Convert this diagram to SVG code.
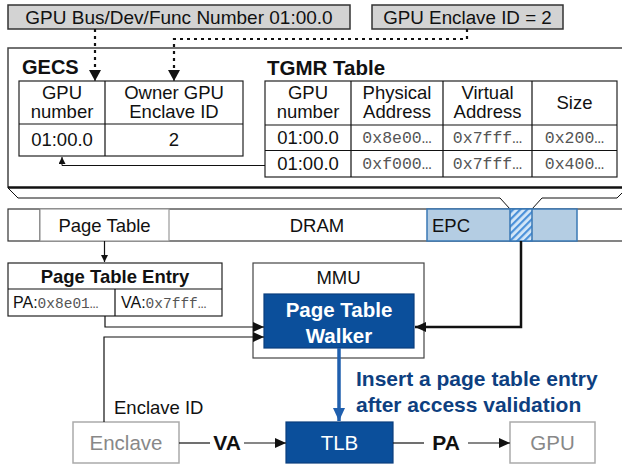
<svg xmlns="http://www.w3.org/2000/svg" width="622" height="465" viewBox="0 0 622 465">
<style>
text{font-family:"Liberation Sans",Arial,sans-serif;fill:#111}
.c{text-anchor:middle}
.b{font-weight:bold}
.t17{font-size:18.5px}
.mono{font-family:"Liberation Mono","Courier New",monospace;fill:#555;font-size:16.5px}
.cell{fill:#fff;stroke:#222;stroke-width:1.2}
.thin{fill:none;stroke:#111;stroke-width:1.2}
.dash{fill:none;stroke:#111;stroke-width:2.2;stroke-dasharray:3,4}
.blue{fill:#0b4f9b;stroke:#0a3f7e;stroke-width:1.2}
.gray{fill:#fff;stroke:#aaa;stroke-width:1.5}
</style>
<defs>
<marker id="big" markerUnits="userSpaceOnUse" markerWidth="12" markerHeight="12" refX="11" refY="6" orient="auto"><path d="M0,0 L11,6 L0,12 z" fill="#111"/></marker>
<marker id="med" markerUnits="userSpaceOnUse" markerWidth="12" markerHeight="10" refX="11" refY="5" orient="auto"><path d="M0,0 L11,5 L0,10 z" fill="#111"/></marker>
<marker id="sm" markerUnits="userSpaceOnUse" markerWidth="8" markerHeight="8" refX="7" refY="3.5" orient="auto"><path d="M0,0 L7,3.5 L0,7 z" fill="#111"/></marker>
<marker id="bl" markerUnits="userSpaceOnUse" markerWidth="14" markerHeight="12" refX="13" refY="6" orient="auto"><path d="M0,0 L13,6 L0,12 z" fill="#1f5fae"/></marker>
<pattern id="hatch" patternUnits="userSpaceOnUse" width="5" height="5" patternTransform="rotate(45)">
<rect width="5" height="5" fill="#d6e8f8"/><rect width="2.2" height="5" fill="#4a90d9"/>
</pattern>
</defs>

<g id="label-bdf">
<rect x="8" y="5" width="342" height="24" fill="#d3d3d3" stroke="#333" stroke-width="1.5"/>
<text class="c" x="179" y="23.5" font-size="19">GPU Bus/Dev/Func Number 01:00.0</text>
</g>
<g id="label-eid">
<rect x="372" y="5" width="191" height="24" fill="#d3d3d3" stroke="#333" stroke-width="1.5"/>
<text class="c" x="467.5" y="23.5" font-size="18.8">GPU Enclave ID = 2</text>
</g>

<g id="callout">
<path d="M8,188 L8,48 L630,48" fill="none" stroke="#444" stroke-width="1.5"/>
<line x1="8" y1="187.5" x2="630" y2="187.5" stroke="#111" stroke-width="2.5"/>
<path d="M8,188 L18,198 L500,198 L510,209 M532,209 L542,198 L617,198 L627,188" fill="none" stroke="#111" stroke-width="1"/>
</g>

<g id="gecs">
<text x="22" y="74" font-size="20" class="b">GECS</text>
<rect class="cell" x="19" y="81" width="224" height="75"/>
<line class="thin" x1="105" y1="81" x2="105" y2="156"/>
<line class="thin" x1="19" y1="124" x2="243" y2="124"/>
<text class="c t17" x="62" y="99">GPU</text>
<text class="c t17" x="62" y="118">number</text>
<text class="c t17" x="174" y="99">Owner GPU</text>
<text class="c t17" x="174" y="118">Enclave ID</text>
<text class="c t17" x="62" y="146">01:00.0</text>
<text class="c t17" x="174" y="146">2</text>
</g>

<g id="tgmr">
<text x="267" y="75" font-size="20.5" class="b">TGMR Table</text>
<rect class="cell" x="265" y="81" width="352" height="96"/>
<path class="thin" d="M351,81 V177 M443,81 V177 M532,81 V177 M265,125 H617 M265,150.5 H617"/>
<text class="c t17" x="308" y="99">GPU</text>
<text class="c t17" x="308" y="118">number</text>
<text class="c t17" x="397" y="99">Physical</text>
<text class="c t17" x="397" y="118">Address</text>
<text class="c t17" x="487.5" y="99">Virtual</text>
<text class="c t17" x="487.5" y="118">Address</text>
<text class="c t17" x="574.5" y="109">Size</text>
<text class="c t17" x="308" y="144">01:00.0</text>
<text class="c mono" x="397" y="143">0x8e00…</text>
<text class="c mono" x="487.5" y="143">0x7fff…</text>
<text class="c mono" x="574.5" y="143">0x200…</text>
<text class="c t17" x="308" y="170">01:00.0</text>
<text class="c mono" x="397" y="169">0xf000…</text>
<text class="c mono" x="487.5" y="169">0x7fff…</text>
<text class="c mono" x="574.5" y="169">0x400…</text>
</g>

<g id="dram">
<rect x="8" y="209" width="620" height="32" fill="#fff" stroke="#333" stroke-width="1.2"/>
<line x1="40" y1="209" x2="40" y2="241" stroke="#333" stroke-width="1.2"/>
<rect x="40" y="209" width="129" height="32" fill="#fff" stroke="#999" stroke-width="1.2"/>
<text class="c t17" x="104.5" y="231.5">Page Table</text>
<text class="c t17" x="317" y="231.5">DRAM</text>
<rect x="427" y="209" width="150" height="32" fill="#b4cde3" stroke="#3a78b5" stroke-width="1.5"/>
<rect x="510" y="209" width="22" height="32" fill="url(#hatch)" stroke="#3a78b5" stroke-width="1.5"/>
<text x="432" y="231.5" class="t17">EPC</text>
</g>

<g id="pte">
<rect class="cell" x="8" y="263" width="214" height="53"/>
<path class="thin" d="M8,289 H222 M115,289 V316"/>
<text class="c b" x="115" y="283" font-size="18.5">Page Table Entry</text>
<text x="13" y="308" font-size="16">PA:<tspan style="font-family:'Liberation Mono',monospace;fill:#555" font-size="14.5">0x8e01…</tspan></text>
<text x="121" y="308" font-size="16">VA:<tspan style="font-family:'Liberation Mono',monospace;fill:#555" font-size="14.5">0x7fff…</tspan></text>
</g>

<g id="mmu">
<rect x="253" y="263" width="171" height="95" fill="#fff" stroke="#444" stroke-width="1.2"/>
<text class="c t17" x="338.5" y="284">MMU</text>
</g>
<g id="ptw">
<rect class="blue" x="264" y="294" width="150" height="54"/>
<text class="c b" x="339" y="316.5" font-size="20.5" style="fill:#fff">Page Table</text>
<text class="c b" x="339" y="342.5" font-size="20.5" style="fill:#fff">Walker</text>
</g>

<g id="enclave">
<rect class="gray" x="73" y="422" width="106" height="41"/>
<text class="c" x="126" y="450" font-size="20.5" style="fill:#888">Enclave</text>
</g>
<g id="tlb">
<rect class="blue" x="286" y="422" width="107" height="41"/>
<text class="c" x="339.5" y="450" font-size="20.5" style="fill:#fff">TLB</text>
</g>
<g id="gpu">
<rect class="gray" x="510" y="422" width="85" height="41"/>
<text class="c" x="552.5" y="450" font-size="20.5" style="fill:#888">GPU</text>
</g>

<g id="connectors">
<path class="dash" d="M95,29 V72"/>
<line x1="95" y1="70" x2="95" y2="81" stroke="#111" stroke-width="1" marker-end="url(#big)"/>
<path class="dash" d="M467,29 V39 H174 V72"/>
<line x1="174" y1="70" x2="174" y2="81" stroke="#111" stroke-width="1" marker-end="url(#big)"/>
<path d="M265,165.5 H62 V157" fill="none" stroke="#111" stroke-width="1" marker-end="url(#sm)"/>
<path d="M104.5,241 V262" fill="none" stroke="#111" stroke-width="1.2" marker-end="url(#sm)"/>
<path d="M105,316 V327 H264" fill="none" stroke="#111" stroke-width="1.2" marker-end="url(#med)"/>
<path d="M104,422 V337 H264" fill="none" stroke="#111" stroke-width="1.2" marker-end="url(#med)"/>
<path d="M521,241 V327 H415" fill="none" stroke="#111" stroke-width="2.5" marker-end="url(#med)"/>
<path d="M339,348 V421" fill="none" stroke="#1f5fae" stroke-width="3.5" marker-end="url(#bl)"/>
<text x="114" y="414" class="t17">Enclave ID</text>
<line x1="179" y1="443" x2="210" y2="443" stroke="#111" stroke-width="1.2"/>
<text class="c b" x="227" y="450" font-size="21">VA</text>
<line x1="244" y1="443" x2="286" y2="443" stroke="#111" stroke-width="1.2" marker-end="url(#med)"/>
<line x1="393" y1="443" x2="424" y2="443" stroke="#111" stroke-width="1.2"/>
<text class="c b" x="446" y="450" font-size="21">PA</text>
<line x1="468" y1="443" x2="510" y2="443" stroke="#111" stroke-width="1.2" marker-end="url(#med)"/>
<text x="356" y="386" class="b" font-size="21" style="fill:#0e3f80">Insert a page table entry</text>
<text x="356" y="412" class="b" font-size="21" style="fill:#0e3f80">after access validation</text>
</g>
</svg>
